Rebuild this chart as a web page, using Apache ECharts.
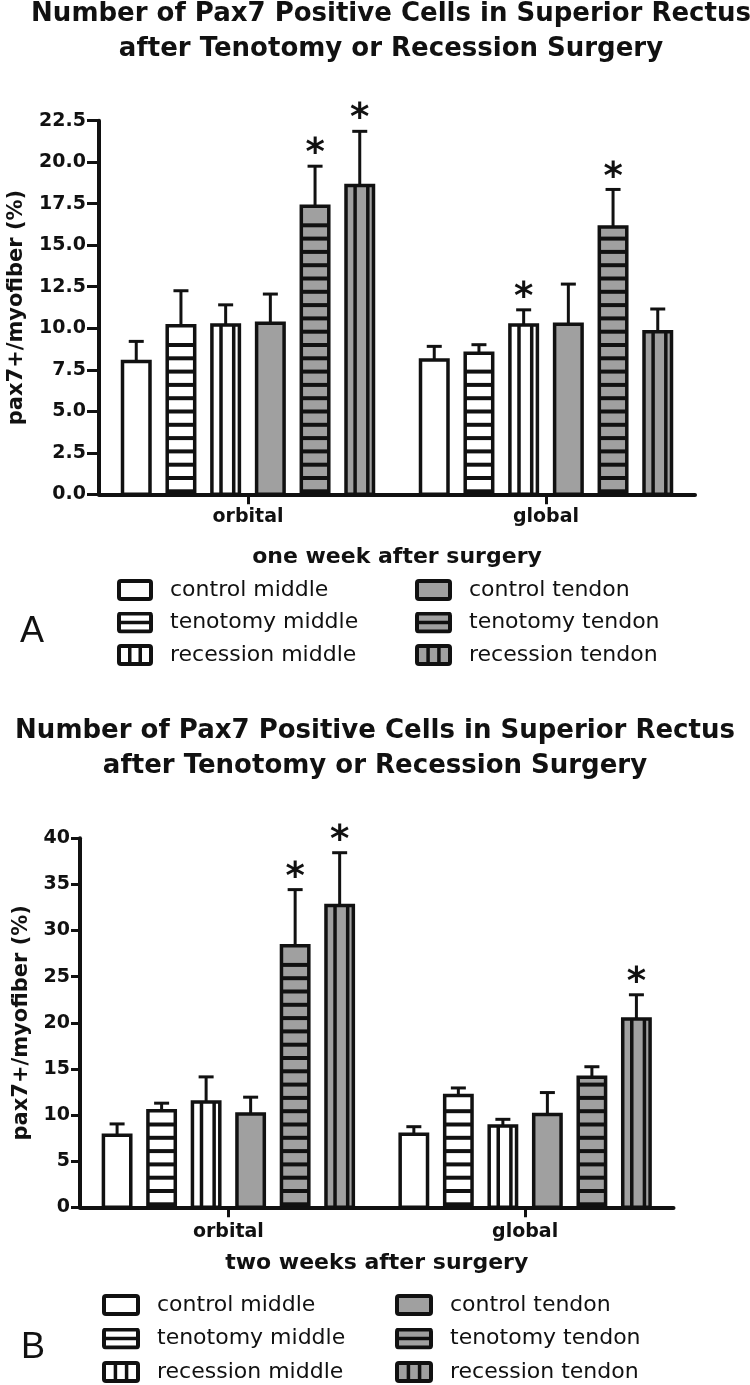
<!DOCTYPE html>
<html><head><meta charset="utf-8">
<script src="https://cdn.jsdelivr.net/npm/echarts@6/dist/echarts.min.js"></script>
<style>html,body{margin:0;padding:0;background:#fff}#chart{width:750px;height:1385px}</style>
</head><body><div id="chart"></div>
<script>
// ---------------- data ----------------
const categories = ['orbital', 'global'];
const seriesNames = ['control middle', 'tenotomy middle', 'recession middle',
                     'control tendon', 'tenotomy tendon', 'recession tendon'];
// rows: series (in seriesNames order); columns: categories
const weekOneMeans  = [[8.1, 8.2], [10.25, 8.6], [10.3, 10.3], [10.4, 10.35], [17.45, 16.2], [18.7, 9.9]];
const weekOneErrors = [[1.2, 0.8], [2.1, 0.5], [1.2, 0.9], [1.75, 2.4], [2.4, 2.25], [3.25, 1.35]];
const weekOneStars  = [[0, 0], [0, 0], [0, 1], [0, 0], [1, 1], [1, 0]];
const weekOneTicks  = ['0.0', '2.5', '5.0', '7.5', '10.0', '12.5', '15.0', '17.5', '20.0', '22.5'];

const weekTwoMeans  = [[8.0, 8.1], [10.65, 12.3], [11.6, 9.0], [10.3, 10.25], [28.55, 14.3], [32.9, 20.6]];
const weekTwoErrors = [[1.2, 0.8], [0.8, 0.8], [2.7, 0.7], [1.8, 2.35], [6.05, 1.1], [5.7, 2.6]];
const weekTwoStars  = [[0, 0], [0, 0], [0, 0], [0, 0], [1, 0], [1, 1]];
const weekTwoTicks  = ['0', '5', '10', '15', '20', '25', '30', '35', '40'];

const titleText = 'Number of Pax7 Positive Cells in Superior Rectus\nafter Tenotomy or Recession Surgery';
const yAxisTitle = 'pax7+/myofiber (%)';
const weekOneLabel = 'one week after surgery';
const weekTwoLabel = 'two weeks after surgery';

// ---------------- style ----------------
const INK = '#111111';
const GRAY = '#a0a0a0';
const FONT = 'DejaVu Sans';
const fills = ['#ffffff', '#ffffff', '#ffffff', GRAY, GRAY, GRAY];
const patterns = ['none', 'h', 'v', 'none', 'h', 'v'];

function makeRender(slot) {
  const pattern = patterns[slot], fill = fills[slot];
  return function (params, api) {
    const cat = api.value(0), mean = api.value(1), err = api.value(2), star = api.value(3);
    const base = api.coord([cat, 0]);
    const top = api.coord([cat, mean]);
    const errTop = api.coord([cat, mean + err]);
    const band = api.size([1, 0])[0];
    const step = band * 0.15, bw = band * 0.104;
    const cx = base[0] + (slot - 2.5) * step;
    const x0 = cx - bw / 2;
    const lw = 3.5;
    const children = [];
    const capY = errTop[1] + 1.5;
    children.push({type: 'line', shape: {x1: cx, y1: top[1] + 2, x2: cx, y2: capY}, style: {stroke: INK, lineWidth: 3}});
    children.push({type: 'line', shape: {x1: cx - 7.5, y1: capY, x2: cx + 7.5, y2: capY}, style: {stroke: INK, lineWidth: 3}});
    const iy = top[1] + lw / 2;
    children.push({type: 'rect', shape: {x: x0 + lw / 2, y: iy, width: bw - lw, height: base[1] - iy},
      style: {fill: fill, stroke: INK, lineWidth: lw}});
    if (pattern === 'h') {
      for (let y = base[1] - 1; y - 4 > iy + lw / 2 + 3; y -= 13.3) {
        children.push({type: 'rect', shape: {x: x0 + lw / 2, y: y - 4, width: bw - lw, height: 4}, style: {fill: INK}});
      }
    } else if (pattern === 'v') {
      [0.35, 0.76].forEach(function (f) {
        children.push({type: 'rect', shape: {x: x0 + bw * f - 1.75, y: iy, width: 3.5, height: base[1] - iy}, style: {fill: INK}});
      });
    }
    if (star) {
      children.push({type: 'text', x: cx, y: capY + 7,
        style: {text: '*', fontFamily: FONT, fontWeight: 'bold', fontSize: 37, fill: INK, align: 'center', verticalAlign: 'bottom'}});
    }
    return {type: 'group', children: children};
  };
}

function legendIcon(slot, boxW) {
  const W = boxW + 12, H = 22, b = 4;
  const fill = fills[slot], p = patterns[slot];
  let s = '<svg xmlns="http://www.w3.org/2000/svg" width="' + W + '" height="' + H + '" viewBox="0 0 ' + W + ' ' + H + '">';
  s += '<rect x="0" y="0" width="' + boxW + '" height="' + H + '" rx="4" fill="' + INK + '"/>';
  s += '<rect x="' + b + '" y="' + b + '" width="' + (boxW - 2 * b) + '" height="' + (H - 2 * b) + '" fill="' + fill + '"/>';
  if (p === 'h') s += '<rect x="' + b + '" y="' + (H / 2 - 1.75) + '" width="' + (boxW - 2 * b) + '" height="3.5" fill="' + INK + '"/>';
  if (p === 'v') {
    const iw = boxW - 2 * b, cw = (iw - 7) / 3;
    s += '<rect x="' + (b + cw) + '" y="' + b + '" width="3.5" height="' + (H - 2 * b) + '" fill="' + INK + '"/>';
    s += '<rect x="' + (b + 2 * cw + 3.5) + '" y="' + b + '" width="3.5" height="' + (H - 2 * b) + '" fill="' + INK + '"/>';
  }
  s += '</svg>';
  return 'image://data:image/svg+xml;charset=utf-8,' + encodeURIComponent(s);
}

function buildSeries(means, errors, stars, axisIndex) {
  return seriesNames.map(function (name, s) {
    return {
      type: 'custom', name: name, xAxisIndex: axisIndex, yAxisIndex: axisIndex,
      renderItem: makeRender(s), clip: false,
      encode: {x: 0, y: 1},
      data: categories.map(function (c, i) { return [i, means[s][i], errors[s][i], stars[s][i]]; })
    };
  });
}

function makeLegend(names, left, top, gap, boxW) {
  return {
    orient: 'vertical', left: left, top: top, padding: 0, itemGap: gap,
    itemWidth: boxW + 12, itemHeight: 22, selectedMode: false,
    textStyle: {fontFamily: FONT, fontSize: 22, color: INK},
    data: names.map(function (n) { return {name: n, icon: legendIcon(seriesNames.indexOf(n), boxW)}; })
  };
}

function yAxisFor(ticks, gridIndex, nameGap, labelMargin, tickLen) {
  const first = parseFloat(ticks[0]), last = parseFloat(ticks[ticks.length - 1]);
  const interval = parseFloat(ticks[1]) - first;
  return {
    type: 'value', gridIndex: gridIndex, min: first, max: last, interval: interval,
    name: yAxisTitle, nameLocation: 'middle', nameGap: nameGap, nameRotate: 90, nameMoveOverlap: false,
    nameTextStyle: {fontFamily: FONT, fontWeight: 'bold', fontSize: 21, color: INK},
    axisLine: {show: true, lineStyle: {color: INK, width: 4}},
    axisTick: {show: true, length: tickLen, lineStyle: {color: INK, width: 3}},
    splitLine: {show: false},
    axisLabel: {show: true, margin: labelMargin, fontFamily: FONT, fontWeight: 'bold', fontSize: 19, color: INK,
      showMinLabel: true, showMaxLabel: true,
      formatter: function (v) { return ticks[Math.round((v - first) / interval)]; }}
  };
}

function xAxisFor(gridIndex, name, nameGap, labelMargin) {
  return {
    type: 'category', gridIndex: gridIndex, data: categories,
    name: name, nameLocation: 'middle', nameGap: nameGap, nameMoveOverlap: false,
    nameTextStyle: {fontFamily: FONT, fontWeight: 'bold', fontSize: 22, color: INK},
    axisLine: {show: true, lineStyle: {color: INK, width: 4}},
    axisTick: {show: true, alignWithLabel: true, length: 10, lineStyle: {color: INK, width: 3}},
    axisLabel: {margin: labelMargin, fontFamily: FONT, fontWeight: 'bold', fontSize: 19, color: INK},
    splitLine: {show: false}
  };
}

const titleStyle = {fontFamily: FONT, fontWeight: 'bold', fontSize: 26, lineHeight: 35, color: INK};
const panelStyle = {fontFamily: 'Liberation Sans', fontWeight: 'normal', fontSize: 36, color: INK};

const option = {
  backgroundColor: '#ffffff',
  animation: false,
  title: [
    {text: titleText, left: 391, textAlign: 'center', top: -3, padding: 0, textStyle: titleStyle},
    {text: titleText, left: 'center', top: 714, padding: 0, textStyle: titleStyle},
    {text: 'A', left: 20, top: 614, padding: 0, textStyle: panelStyle},
    {text: 'B', left: 21, top: 1330, padding: 0, textStyle: panelStyle}
  ],
  legend: [
    makeLegend(seriesNames.slice(0, 3), 117, 579, 10.5, 36),
    makeLegend(seriesNames.slice(3), 415, 579, 10.5, 37),
    makeLegend(seriesNames.slice(0, 3), 102, 1294, 11.5, 38),
    makeLegend(seriesNames.slice(3), 395, 1294, 11.5, 38)
  ],
  grid: [
    {left: 99, right: 55, top: 120.7, bottom: 890.7, containLabel: false, outerBoundsMode: 'none'},
    {left: 80, right: 76.5, top: 838.3, bottom: 177.7, containLabel: false, outerBoundsMode: 'none'}
  ],
  xAxis: [xAxisFor(0, weekOneLabel, 52, 13), xAxisFor(1, weekTwoLabel, 45, 15)],
  yAxis: [yAxisFor(weekOneTicks, 0, 72, 13, 12), yAxisFor(weekTwoTicks, 1, 48, 10, 9)],
  series: buildSeries(weekOneMeans, weekOneErrors, weekOneStars, 0)
    .concat(buildSeries(weekTwoMeans, weekTwoErrors, weekTwoStars, 1))
};

const chart = echarts.init(document.getElementById('chart'), null, {renderer: 'canvas'});
chart.setOption(option);
</script>
</body></html>
